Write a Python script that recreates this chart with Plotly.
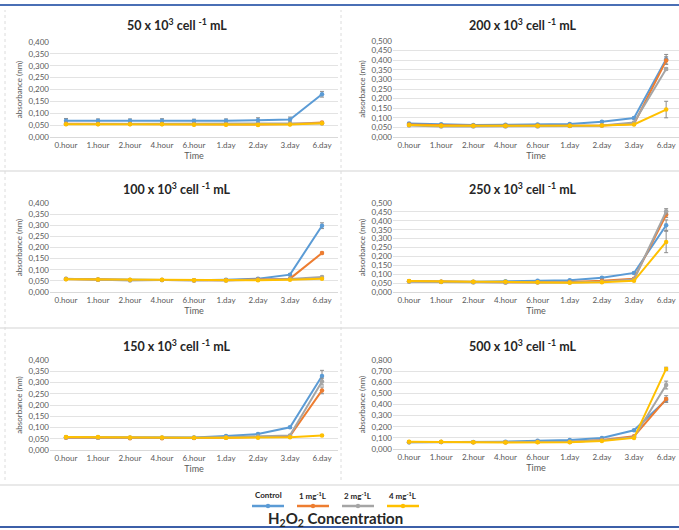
import plotly.graph_objects as go

W, H = 679, 530

cats = ["0.hour", "1.hour", "2.hour", "4.hour", "6.hour", "1.day", "2.day", "3.day", "6.day"]
series_names = ["Control", "1 mg<sup>-1</sup>L", "2 mg<sup>-1</sup>L", "4 mg<sup>-1</sup>L"]
colors = ["#5B9BD5", "#ED7D31", "#A5A5A5", "#FFC000"]
panel_titles = ["50", "200", "100", "250", "150", "500"]
y_max = [0.4, 0.5, 0.4, 0.5, 0.4, 0.8]

# 50 x 10^3
ctrl_50 = [0.068, 0.068, 0.068, 0.068, 0.067, 0.068, 0.071, 0.074, 0.180]
mg1_50 = [0.056, 0.055, 0.055, 0.055, 0.054, 0.054, 0.053, 0.055, 0.061]
mg2_50 = [0.055, 0.055, 0.055, 0.055, 0.054, 0.054, 0.055, 0.055, 0.057]
mg4_50 = [0.054, 0.054, 0.054, 0.054, 0.052, 0.052, 0.051, 0.053, 0.058]
err_ctrl_50 = [0.010, 0.008, 0.008, 0.009, 0.008, 0.008, 0.010, 0.010, 0.012]
err_mg1_50 = [0.003, 0.003, 0.003, 0.003, 0.003, 0.003, 0.003, 0.003, 0.004]
err_mg2_50 = [0.003, 0.003, 0.003, 0.003, 0.003, 0.003, 0.003, 0.003, 0.003]
err_mg4_50 = [0.003, 0.003, 0.003, 0.003, 0.003, 0.003, 0.003, 0.003, 0.003]

# 200 x 10^3
ctrl_200 = [0.070, 0.066, 0.063, 0.064, 0.065, 0.068, 0.080, 0.099, 0.405]
mg1_200 = [0.065, 0.060, 0.058, 0.058, 0.058, 0.058, 0.060, 0.068, 0.398]
mg2_200 = [0.060, 0.055, 0.055, 0.055, 0.055, 0.057, 0.060, 0.075, 0.354]
mg4_200 = [0.063, 0.058, 0.058, 0.058, 0.058, 0.058, 0.060, 0.065, 0.143]
err_ctrl_200 = [0.004, 0.004, 0.003, 0.003, 0.003, 0.003, 0.004, 0.005, 0.025]
err_mg1_200 = [0.003, 0.003, 0.003, 0.003, 0.003, 0.003, 0.003, 0.004, 0.020]
err_mg2_200 = [0.004, 0.004, 0.004, 0.004, 0.004, 0.004, 0.004, 0.004, 0.006]
err_mg4_200 = [0.003, 0.003, 0.003, 0.003, 0.003, 0.003, 0.003, 0.004, 0.043]

# 100 x 10^3
ctrl_100 = [0.058, 0.056, 0.054, 0.054, 0.053, 0.055, 0.060, 0.078, 0.298]
mg1_100 = [0.058, 0.055, 0.054, 0.054, 0.052, 0.053, 0.056, 0.060, 0.175]
mg2_100 = [0.060, 0.055, 0.052, 0.054, 0.052, 0.052, 0.055, 0.058, 0.067]
mg4_100 = [0.057, 0.056, 0.055, 0.055, 0.053, 0.052, 0.053, 0.055, 0.060]
err_ctrl_100 = [0.003, 0.003, 0.003, 0.003, 0.003, 0.003, 0.003, 0.004, 0.013]
err_mg1_100 = [0.003, 0.003, 0.003, 0.003, 0.003, 0.003, 0.003, 0.003, 0.004]
err_mg2_100 = [0.003, 0.003, 0.003, 0.003, 0.003, 0.003, 0.003, 0.003, 0.004]
err_mg4_100 = [0.003, 0.003, 0.003, 0.003, 0.003, 0.003, 0.003, 0.003, 0.003]

# 250 x 10^3
ctrl_250 = [0.060, 0.058, 0.057, 0.060, 0.063, 0.066, 0.080, 0.107, 0.375]
mg1_250 = [0.060, 0.057, 0.056, 0.055, 0.055, 0.056, 0.063, 0.075, 0.434]
mg2_250 = [0.058, 0.056, 0.054, 0.052, 0.053, 0.054, 0.058, 0.070, 0.453]
mg4_250 = [0.062, 0.058, 0.058, 0.057, 0.055, 0.052, 0.055, 0.063, 0.281]
err_ctrl_250 = [0.003, 0.003, 0.003, 0.003, 0.003, 0.003, 0.004, 0.005, 0.030]
err_mg1_250 = [0.003, 0.003, 0.003, 0.003, 0.003, 0.003, 0.003, 0.004, 0.015]
err_mg2_250 = [0.003, 0.003, 0.003, 0.003, 0.003, 0.003, 0.003, 0.004, 0.015]
err_mg4_250 = [0.003, 0.003, 0.003, 0.003, 0.003, 0.003, 0.003, 0.003, 0.060]

# 150 x 10^3
ctrl_150 = [0.057, 0.056, 0.055, 0.055, 0.056, 0.062, 0.071, 0.101, 0.329]
mg1_150 = [0.055, 0.054, 0.052, 0.052, 0.053, 0.055, 0.058, 0.062, 0.265]
mg2_150 = [0.056, 0.055, 0.054, 0.054, 0.055, 0.057, 0.060, 0.065, 0.304]
mg4_150 = [0.058, 0.058, 0.056, 0.056, 0.055, 0.054, 0.055, 0.057, 0.064]
err_ctrl_150 = [0.003, 0.003, 0.003, 0.003, 0.003, 0.003, 0.003, 0.004, 0.025]
err_mg1_150 = [0.003, 0.003, 0.003, 0.003, 0.003, 0.003, 0.003, 0.003, 0.015]
err_mg2_150 = [0.003, 0.003, 0.003, 0.003, 0.003, 0.003, 0.003, 0.003, 0.015]
err_mg4_150 = [0.003, 0.003, 0.003, 0.003, 0.003, 0.003, 0.003, 0.003, 0.003]

# 500 x 10^3
ctrl_500 = [0.060, 0.062, 0.062, 0.066, 0.074, 0.080, 0.099, 0.168, 0.440]
mg1_500 = [0.062, 0.063, 0.060, 0.060, 0.062, 0.063, 0.080, 0.115, 0.449]
mg2_500 = [0.060, 0.062, 0.060, 0.060, 0.065, 0.065, 0.078, 0.105, 0.575]
mg4_500 = [0.065, 0.065, 0.060, 0.058, 0.060, 0.060, 0.072, 0.100, 0.720]
err_ctrl_500 = [0.004, 0.004, 0.004, 0.004, 0.004, 0.004, 0.005, 0.006, 0.020]
err_mg1_500 = [0.004, 0.004, 0.004, 0.004, 0.004, 0.004, 0.004, 0.005, 0.030]
err_mg2_500 = [0.004, 0.004, 0.004, 0.004, 0.004, 0.004, 0.004, 0.005, 0.035]
err_mg4_500 = [0.004, 0.004, 0.004, 0.004, 0.004, 0.004, 0.004, 0.005, 0.015]

panels = [
    ([ctrl_50, mg1_50, mg2_50, mg4_50], [err_ctrl_50, err_mg1_50, err_mg2_50, err_mg4_50]),
    ([ctrl_200, mg1_200, mg2_200, mg4_200], [err_ctrl_200, err_mg1_200, err_mg2_200, err_mg4_200]),
    ([ctrl_100, mg1_100, mg2_100, mg4_100], [err_ctrl_100, err_mg1_100, err_mg2_100, err_mg4_100]),
    ([ctrl_250, mg1_250, mg2_250, mg4_250], [err_ctrl_250, err_mg1_250, err_mg2_250, err_mg4_250]),
    ([ctrl_150, mg1_150, mg2_150, mg4_150], [err_ctrl_150, err_mg1_150, err_mg2_150, err_mg4_150]),
    ([ctrl_500, mg1_500, mg2_500, mg4_500], [err_ctrl_500, err_mg1_500, err_mg2_500, err_mg4_500]),
]

# layout geometry in pixels: (x0, x1, ytop, ybottom, x-range end)
geom = [
    (50, 338, 42, 137, 8.5),
    (393, 679, 41, 137, 8.4),
    (50, 338, 203, 292, 8.5),
    (393, 679, 203, 292, 8.4),
    (50, 338, 360, 450, 8.5),
    (393, 679, 360, 449, 8.4),
]
title_pos = [(177, 25), (523, 25), (177, 188), (523, 188), (177, 345), (523, 345)]

FONT = "Lato, 'Open Sans', sans-serif"
fig = go.Figure()
annotations = []
shapes = []

for i, ((vals, errs), (x0, x1, yt, yb, xr), (tx, ty), ttl, ym) in enumerate(
        zip(panels, geom, title_pos, panel_titles, y_max)):
    n = "" if i == 0 else str(i + 1)
    for s in range(4):
        fig.add_trace(go.Scatter(
            x=cats, y=vals[s], mode="lines+markers",
            line=dict(color=colors[s], width=2),
            marker=dict(color=colors[s], size=4.5),
            error_y=dict(type="data", array=errs[s], color="#8c8c8c", thickness=1, width=2),
            xaxis="x" + n, yaxis="y" + n, showlegend=False,
            name=series_names[s],
        ))
    fig.layout["xaxis" + n] = dict(
        domain=[x0 / W, x1 / W], anchor="y" + n, type="category", automargin=False,
        range=[-0.5, xr], showgrid=False, showline=True, linecolor="#d9d9d9",
        linewidth=1, ticks="", tickfont=dict(size=8, color="#595959", family=FONT),
        title=dict(text="Time", font=dict(size=9, color="#595959", family=FONT), standoff=3),
        zeroline=False,
    )
    fig.layout["yaxis" + n] = dict(
        domain=[(H - yb) / H, (H - yt) / H], anchor="x" + n, automargin=False,
        range=[0, ym], dtick=0.05 if ym < 0.6 else 0.1, tickformat=".3f",
        showgrid=True, gridcolor="#e3e3e3", gridwidth=1, zeroline=False,
        showline=False, ticks="", tickfont=dict(size=8, color="#595959", family=FONT),
        title=dict(text="absorbance (nm)", font=dict(size=8, color="#595959", family=FONT), standoff=4),
    )
    annotations.append(dict(
        x=tx / W, y=(H - ty) / H, xref="paper", yref="paper", showarrow=False,
        xanchor="center", yanchor="middle",
        text="<b>%s x 10<sup>3</sup> cell <sup>-1</sup> mL</b>" % ttl,
        font=dict(size=12.5, color="#262626", family=FONT),
    ))

# legend (manual, label above the line sample)
leg_x = [268, 313, 358, 403]
for s in range(4):
    cx = leg_x[s]
    annotations.append(dict(
        x=cx / W, y=(H - 495) / H, xref="paper", yref="paper", showarrow=False,
        xanchor="center", yanchor="middle", text="<b>%s</b>" % series_names[s],
        font=dict(size=8, color="#262626", family=FONT),
    ))
    shapes.append(dict(type="line", xref="paper", yref="paper",
                       x0=(cx - 16) / W, x1=(cx + 16) / W, y0=(H - 506) / H, y1=(H - 506) / H,
                       line=dict(color=colors[s], width=2.5)))
    shapes.append(dict(type="circle", xref="paper", yref="paper",
                       x0=(cx - 2.2) / W, x1=(cx + 2.2) / W, y0=(H - 508.2) / H, y1=(H - 503.8) / H,
                       fillcolor=colors[s], line=dict(color=colors[s], width=0)))

annotations.append(dict(
    x=335 / W, y=(H - 519) / H, xref="paper", yref="paper", showarrow=False,
    xanchor="center", yanchor="middle",
    text="<b>H<sub>2</sub>O<sub>2</sub> Concentration</b>",
    font=dict(size=15, color="#262626", family=FONT),
))

# frame decorations
def hline(y, x0, x1, color, width, dash="solid"):
    shapes.append(dict(type="line", xref="paper", yref="paper",
                       x0=x0 / W, x1=x1 / W, y0=(H - y) / H, y1=(H - y) / H,
                       line=dict(color=color, width=width, dash=dash)))

hline(5, 0, 679, "#4a6fb5", 2)
hline(527, 0, 679, "#3c5fa8", 2)
hline(171, 0, 679, "#e9e9e9", 2)
hline(328, 0, 679, "#e9e9e9", 2)
hline(485, 0, 679, "#e9e9e9", 2)
for xv in (5, 341):
    shapes.append(dict(type="line", xref="paper", yref="paper",
                       x0=xv / W, x1=xv / W, y0=(H - 480) / H, y1=(H - 10) / H,
                       line=dict(color="#dcdcdc", width=1, dash="dot")))

fig.update_layout(
    width=W, height=H, margin=dict(l=0, r=0, t=0, b=0),
    paper_bgcolor="white", plot_bgcolor="white",
    separators=",.", annotations=annotations, shapes=shapes,
    font=dict(family=FONT),
)

fig.write_html(
    "out.html",
    config={"displayModeBar": False},
    post_script="document.body.style.margin='0';document.body.style.padding='0';"
                "document.documentElement.style.overflow='hidden';",
)
